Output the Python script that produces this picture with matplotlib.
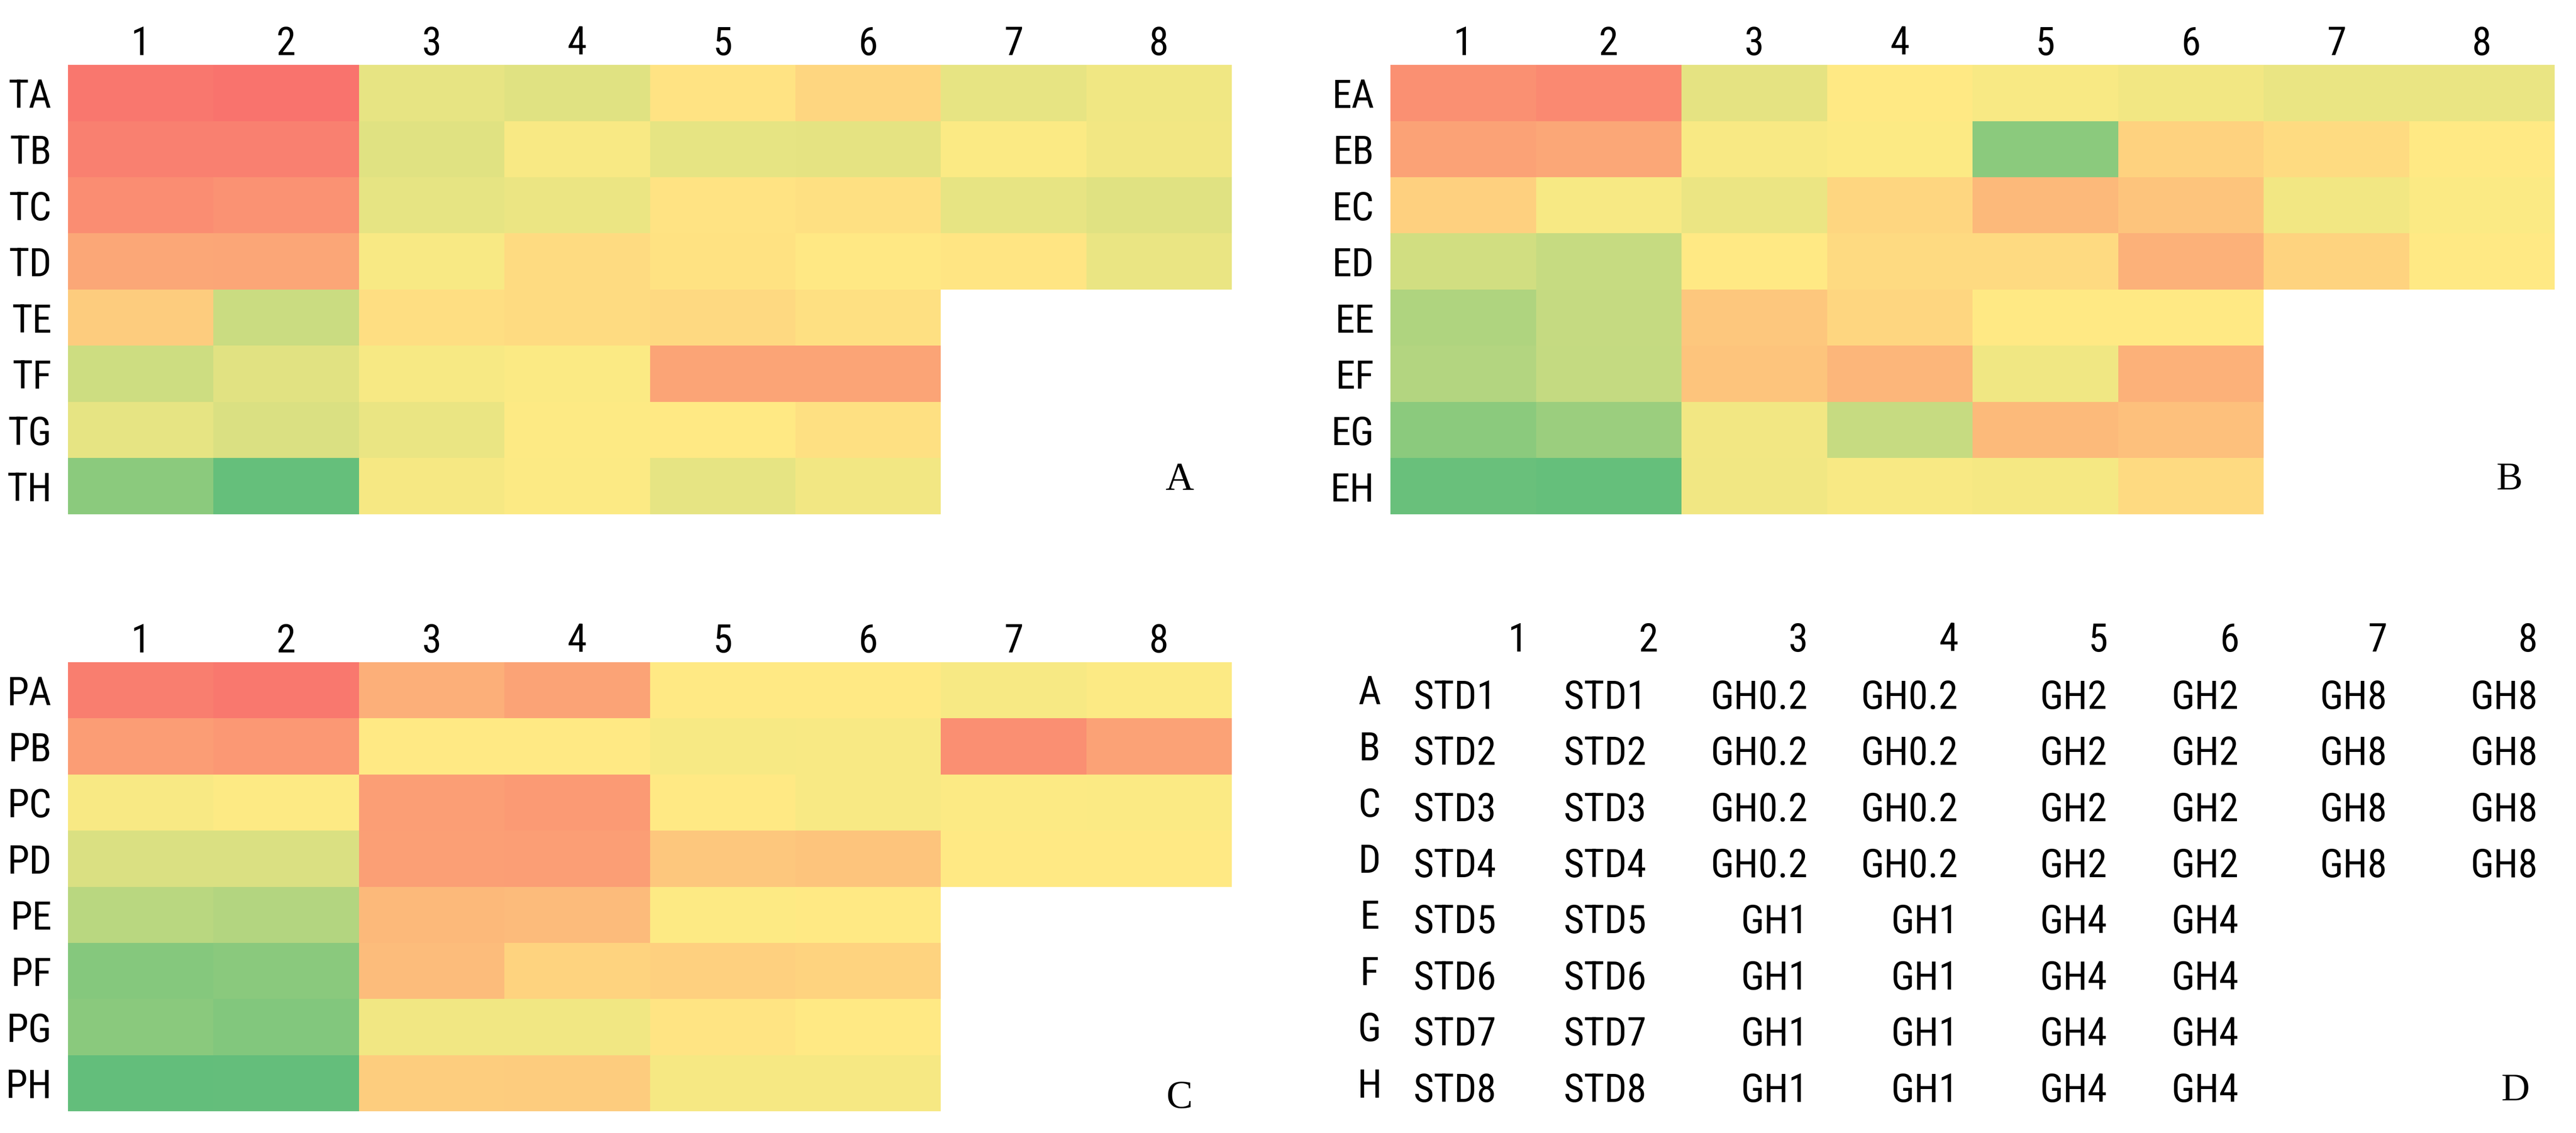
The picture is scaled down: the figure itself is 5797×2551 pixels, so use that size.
import os
import numpy as np
import matplotlib
matplotlib.use("Agg")
import matplotlib.pyplot as plt
from matplotlib import font_manager as fm
from matplotlib.colors import LinearSegmentedColormap, Normalize

# ---------------- data ----------------
nan = np.nan
col_labels = ["1", "2", "3", "4", "5", "6", "7", "8"]
rows_A = ["TA", "TB", "TC", "TD", "TE", "TF", "TG", "TH"]
rows_B = ["EA", "EB", "EC", "ED", "EE", "EF", "EG", "EH"]
rows_C = ["PA", "PB", "PC", "PD", "PE", "PF", "PG", "PH"]

# 0 = green (low), 50 = yellow (mid), 100 = red (high)
vals_A = [
    [94.5, 96.0, 42.5, 40.0, 53.0, 58.0, 42.5, 45.0],
    [91.0, 91.0, 40.0, 48.0, 42.0, 41.5, 48.5, 46.0],
    [86.0, 84.0, 42.0, 43.5, 53.0, 54.0, 42.5, 40.0],
    [76.0, 76.5, 48.0, 56.0, 53.5, 51.0, 52.0, 43.0],
    [62.0, 33.0, 55.0, 56.0, 57.0, 54.0, nan, nan],
    [34.0, 40.5, 47.5, 48.5, 77.0, 77.0, nan, nan],
    [42.0, 38.0, 43.0, 49.5, 50.5, 54.0, nan, nan],
    [13.0, 1.0, 47.0, 49.0, 42.0, 46.0, nan, nan],
]
vals_B = [
    [85.0, 87.5, 41.5, 50.5, 48.0, 46.0, 43.0, 43.0],
    [78.0, 76.0, 48.0, 49.0, 13.0, 59.5, 56.0, 50.5],
    [60.5, 47.5, 43.5, 58.0, 69.5, 65.0, 46.0, 48.5],
    [35.5, 32.0, 50.5, 56.5, 56.5, 72.0, 59.0, 50.5],
    [24.5, 31.5, 64.0, 58.0, 50.5, 50.5, nan, nan],
    [25.5, 31.0, 65.0, 70.0, 45.0, 72.0, nan, nan],
    [13.0, 18.0, 46.0, 32.0, 69.0, 66.5, nan, nan],
    [2.0, 1.0, 45.5, 48.0, 46.5, 56.5, nan, nan],
]
vals_C = [
    [91.5, 94.0, 73.0, 77.5, 50.5, 50.5, 47.5, 49.0],
    [80.0, 82.0, 50.5, 50.5, 47.5, 48.0, 85.5, 78.0],
    [48.0, 49.5, 79.5, 81.0, 50.5, 48.0, 49.0, 48.5],
    [38.0, 38.0, 79.0, 79.5, 64.0, 65.0, 50.5, 50.5],
    [27.5, 25.5, 69.5, 68.5, 49.5, 50.5, nan, nan],
    [11.0, 12.5, 68.0, 59.0, 60.5, 59.0, nan, nan],
    [12.5, 10.0, 45.5, 45.5, 52.5, 50.5, nan, nan],
    [0.0, 0.5, 61.5, 62.0, 47.0, 47.0, nan, nan],
]

table_rows = ["A", "B", "C", "D", "E", "F", "G", "H"]
table_D = [
    ["STD1", "STD1", "GH0.2", "GH0.2", "GH2", "GH2", "GH8", "GH8"],
    ["STD2", "STD2", "GH0.2", "GH0.2", "GH2", "GH2", "GH8", "GH8"],
    ["STD3", "STD3", "GH0.2", "GH0.2", "GH2", "GH2", "GH8", "GH8"],
    ["STD4", "STD4", "GH0.2", "GH0.2", "GH2", "GH2", "GH8", "GH8"],
    ["STD5", "STD5", "GH1", "GH1", "GH4", "GH4", "", ""],
    ["STD6", "STD6", "GH1", "GH1", "GH4", "GH4", "", ""],
    ["STD7", "STD7", "GH1", "GH1", "GH4", "GH4", "", ""],
    ["STD8", "STD8", "GH1", "GH1", "GH4", "GH4", "", ""],
]
panel_letters = ["A", "B", "C", "D"]

# ---------------- fonts ----------------
def all_font_files():
    files = {}
    try:
        for p in fm.findSystemFonts():
            files.setdefault(os.path.basename(p), p)
    except Exception:
        pass
    for f in fm.fontManager.ttflist:
        files.setdefault(os.path.basename(f.fname), f.fname)
    return files

BAD = ("bold", "italic", "light", "thin", "black", "medium", "semibold",
       "heavy", "oblique")

def pick_sans():
    files = all_font_files()
    low = {k.lower(): v for k, v in files.items()}

    def search(prefix, width_tag):
        hits = []
        for k, v in low.items():
            if not k.startswith(prefix) or width_tag not in k:
                continue
            rest = k.replace(width_tag, "")
            if any(b in rest for b in BAD):
                continue
            if "semicondensed" in k and width_tag != "semicondensed":
                continue
            if not (k.endswith(".ttf") or k.endswith(".otf")):
                continue
            hits.append((len(k), v))
        hits.sort()
        return hits[0][1] if hits else None

    for prefix, tag in [("notosans-", "extracondensed"),
                        ("opensans_condensed", "condensed"),
                        ("opensans-", "condensed"),
                        ("notosans-", "condensed"),
                        ("robotocondensed", "condensed"),
                        ("dejavusanscondensed", "condensed"),
                        ("liberationsansnarrow", "narrow")]:
        r = search(prefix, tag)
        if r:
            return r
    return None

sans_path = pick_sans()

FS = 64
def sans(size=FS):
    if sans_path:
        return fm.FontProperties(fname=sans_path, size=size)
    return fm.FontProperties(family="DejaVu Sans", stretch="condensed", size=size)

serif = fm.FontProperties(family=["Liberation Serif", "DejaVu Serif"], size=64)

# ---------------- figure ----------------
W, H = 5797, 2551
DPI = 100
fig = plt.figure(figsize=(W / DPI, H / DPI), dpi=DPI)
fig.patch.set_facecolor("white")

cmap = LinearSegmentedColormap.from_list(
    "ryg", [(0.0, "#63BE7B"), (0.5, "#FFEB84"), (1.0, "#F8696B")])
norm = Normalize(vmin=0, vmax=100)

def px_axes(x0, y0, x1, y1):
    return fig.add_axes([x0 / W, 1 - y1 / H, (x1 - x0) / W, (y1 - y0) / H])

def heat(ax, vals, rows, letter, letter_xy):
    data = np.ma.masked_invalid(np.array(vals, dtype=float))
    ax.pcolormesh(np.arange(9), np.arange(9), data, cmap=cmap, norm=norm,
                  edgecolors="face", linewidth=0, antialiased=False)
    ax.set_xlim(0, 8)
    ax.set_ylim(8, 0)
    ax.xaxis.tick_top()
    ax.set_xticks(np.arange(8) + 0.5)
    ax.set_xticklabels(col_labels)
    ax.set_yticks(np.arange(8) + 0.5)
    ax.set_yticklabels(rows)
    ax.tick_params(axis="x", length=0, pad=3)
    ax.tick_params(axis="y", length=0, pad=26.5)
    for lb in ax.get_xticklabels() + ax.get_yticklabels():
        lb.set_fontproperties(sans())
    for s in ax.spines.values():
        s.set_visible(False)
    ax.text(letter_xy[0], letter_xy[1], letter, fontproperties=serif,
            ha="center", va="baseline")

axA = px_axes(153, 146, 2772, 1158)
heat(axA, vals_A, rows_A, panel_letters[0], (7.64, 7.56))
axB = px_axes(3129, 146, 5749, 1158)
heat(axB, vals_B, rows_B, panel_letters[1], (7.69, 7.56))
axC = px_axes(153, 1491, 2772, 2502)
heat(axC, vals_C, rows_C, panel_letters[2], (7.64, 7.93))

# ---------------- table D ----------------
axD = px_axes(3129, 1491, 5749, 2502)
axD.set_xlim(0, 8)
axD.set_ylim(8, 0)
axD.axis("off")
hdr_right = [0.943, 1.841, 2.870, 3.902, 4.931, 5.832, 6.849, 7.884]
cell_x = [(0.156, "left"), (1.188, "left"), (2.870, "right"), (3.902, "right"),
          (4.925, "right"), (5.828, "right"), (6.849, "right"), (7.884, "right")]
row_letter_x = -0.144
hdr_y = -0.19
base_off = 0.83
for j, lab in enumerate(col_labels):
    axD.text(hdr_right[j], hdr_y, lab, fontproperties=sans(), ha="right", va="baseline")
for i, rl in enumerate(table_rows):
    y = i + base_off
    axD.text(row_letter_x, y - 0.08, rl, fontproperties=sans(), ha="center", va="baseline")
    for j, s in enumerate(table_D[i]):
        if s:
            x, ha = cell_x[j]
            axD.text(x, y, s, fontproperties=sans(), ha=ha, va="baseline")
axD.text(7.73, 7.81, panel_letters[3], fontproperties=serif, ha="center", va="baseline")

fig.savefig("out.png", dpi=DPI, facecolor="white")
